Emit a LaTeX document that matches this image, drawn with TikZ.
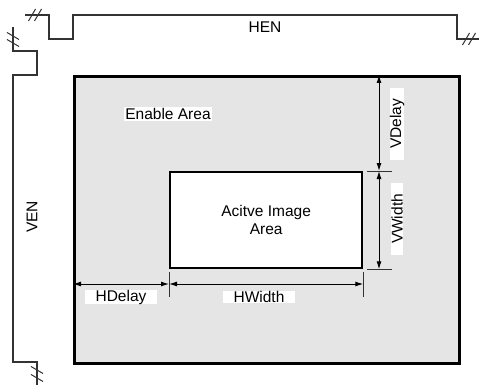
\documentclass[tikz,border=0pt]{standalone}
\usepackage{fontspec}
\setmainfont{Liberation Sans}
\usetikzlibrary{arrows.meta,calc}

\begin{document}
\begin{tikzpicture}[x=1pt,y=-1pt,font=\fontsize{15.5}{17.5}\selectfont,
  sig/.style={line width=1.5pt,draw=black!80},
  brk/.style={line width=1pt,draw=black!80},
  dim/.style={{Latex[length=8pt,width=5pt]}-{Latex[length=8pt,width=5pt]},line width=1pt},
  tickline/.style={line width=1pt,draw=black!80},
  lbl/.style={fill=white,inner sep=0pt,minimum width=72pt,minimum height=12pt},
  area/.style={draw,anchor=north west,inner sep=0pt,align=center}]
\useasboundingbox (0,0) rectangle (479,385);

% --- HEN / VEN timing lines with break marks ---
\draw[sig] (25,15) -- (49,15) -- (49,39) -- (73,39) -- (73,15) -- (457,15) -- (457,39) -- (479,39);
\foreach \x in {32,38} \draw[brk] (\x-3.5,21) -- (\x+3.5,9);
\foreach \x in {466,472} \draw[brk] (\x-3.5,45) -- (\x+3.5,33);
\draw[sig] (13,27) -- (13,51) -- (37,51) -- (37,75) -- (13,75) -- (13,362) -- (37,362) -- (37,385);
\foreach \y in {36,43} \draw[brk] (7,\y-3.5) -- (19,\y+3.5);
\foreach \y in {370,378} \draw[brk] (31,\y-3.5) -- (43,\y+3.5);
\node (hen) at (265,27) {HEN};
\node[rotate=90] (ven) at (32,217) {VEN};

% --- areas ---
\node[area,fill=black!10,line width=2.6pt,minimum width=385pt,minimum height=287pt] (enable) at (73,75) {};
\node[area,fill=white,line width=2.3pt,minimum width=192pt,minimum height=96pt] (active) at (169,171)
  {Acitve Image\\Area};
\node[fill=white,inner sep=1.5pt] (etxt) at (168,114) {Enable Area};

% --- vertical dimensions ---
\coordinate (vx) at (379,0);
\coordinate (vt0) at (367,0);
\coordinate (vt1) at (392,0);
\draw[tickline] (vt0 |- active.north) -- (vt1 |- active.north);
\draw[tickline] (vt0 |- active.south) -- (vt1 |- active.south);
\draw[dim] (vx |- enable.north) -- (vx |- active.north);
\draw[dim] (vx |- active.north) -- (vx |- active.south);
\node[lbl,rotate=90] (vdelay) at (397,124) {VDelay};
\node[lbl,rotate=90] (vwidth) at (397,219) {VWidth};

% --- horizontal dimensions ---
\coordinate (hy) at (0,284);
\coordinate (ht0) at (0,272);
\coordinate (ht1) at (0,297);
\draw[tickline] (active.west |- ht0) -- (active.west |- ht1);
\draw[tickline] (active.east |- ht0) -- (active.east |- ht1);
\draw[dim] (enable.west |- hy) -- (active.west |- hy);
\draw[dim] (active.west |- hy) -- (active.east |- hy);
\node[lbl] (hdelay) at (121,297) {HDelay};
\node[lbl] (hwidth) at (259,297) {HWidth};
\end{tikzpicture}
\end{document}
